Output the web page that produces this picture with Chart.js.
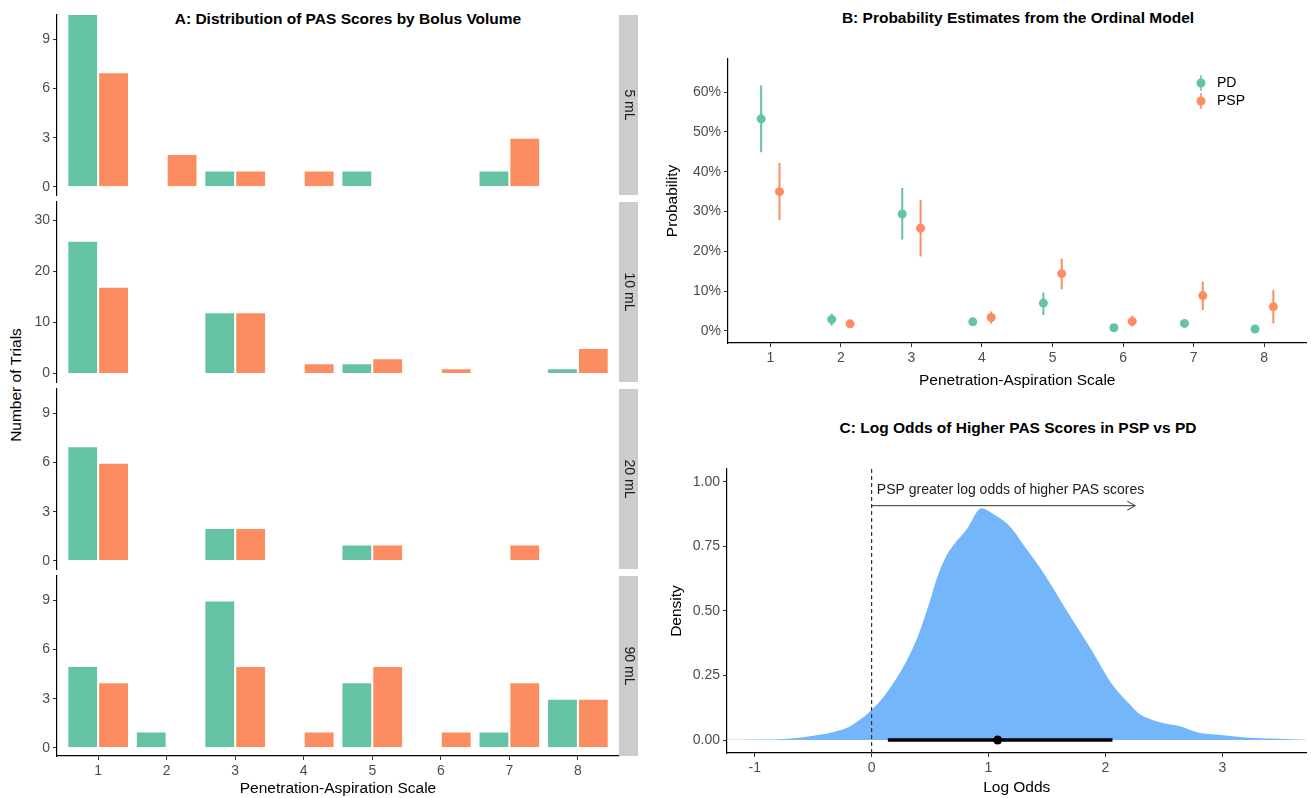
<!DOCTYPE html>
<html>
<head>
<meta charset="utf-8">
<script src="https://cdn.jsdelivr.net/npm/chart.js@4.4.1/dist/chart.umd.min.js"></script>
<style>
  body { margin: 0; background: #fff; width: 1311px; height: 798px; position: relative; overflow: hidden;
         font-family: 'Liberation Sans', Arial, sans-serif; }
  canvas { position: absolute; }
  .ttl { position: absolute; font-weight: bold; font-size: 15.5px; color: #000; white-space: nowrap;
         transform: translate(-50%, -50%); }
  .ytl { position: absolute; font-size: 15.5px; color: #000; white-space: nowrap;
         transform: translate(-50%, -50%) rotate(-90deg); }
</style>
</head>
<body>
<div class="ttl" style="left:348px;top:19px">A: Distribution of PAS Scores by Bolus Volume</div>
<div class="ttl" style="left:1018px;top:18px">B: Probability Estimates from the Ordinal Model</div>
<div class="ttl" style="left:1018px;top:428px">C: Log Odds of Higher PAS Scores in PSP vs PD</div>
<div class="ytl" style="left:16px;top:385px">Number of Trials</div>

<canvas id="facet0" width="640" height="204" style="left:0;top:3px"></canvas>
<canvas id="facet1" width="640" height="204" style="left:0;top:190px"></canvas>
<canvas id="facet2" width="640" height="204" style="left:0;top:377px"></canvas>
<canvas id="facet3" width="640" height="234" style="left:0;top:564px"></canvas>
<canvas id="probChart" width="661" height="360" style="left:650px;top:40px"></canvas>
<canvas id="oddsChart" width="661" height="348" style="left:650px;top:450px"></canvas>

<script>
// ---- data ----
const pasLevels = [1, 2, 3, 4, 5, 6, 7, 8];
const groups = ['PD', 'PSP'];
const volumes = ['5 mL', '10 mL', '20 mL', '90 mL'];

// trial counts per PAS score, one row per bolus volume
const pdCounts = [
  [11, 0, 1, 0, 1, 0, 1, 0],
  [26, 0, 12, 0, 2, 0, 0, 1],
  [7, 0, 2, 0, 1, 0, 0, 0],
  [5, 1, 9, 0, 4, 0, 1, 3]
];
const pspCounts = [
  [7, 2, 1, 1, 0, 0, 3, 0],
  [17, 0, 12, 2, 3, 1, 0, 5],
  [6, 0, 2, 0, 1, 0, 1, 0],
  [4, 0, 5, 1, 5, 1, 4, 3]
];
const countTicks = [[0, 3, 6, 9], [0, 10, 20, 30], [0, 3, 6, 9], [0, 3, 6, 9]];
const countRanges = [[-0.5, 10.5], [-1.67, 33.6], [-0.5, 10.5], [-0.5, 10.5]];

// ordinal model probabilities with intervals
const pdProb  = [0.533, 0.029, 0.294, 0.023, 0.070, 0.008, 0.019, 0.005];
const pdLow   = [0.449, 0.014, 0.230, 0.018, 0.040, 0.005, 0.015, 0.003];
const pdHigh  = [0.617, 0.044, 0.359, 0.028, 0.097, 0.012, 0.023, 0.008];
const pspProb = [0.350, 0.018, 0.258, 0.034, 0.144, 0.024, 0.089, 0.061];
const pspLow  = [0.279, 0.010, 0.187, 0.019, 0.105, 0.011, 0.053, 0.019];
const pspHigh = [0.422, 0.026, 0.329, 0.049, 0.182, 0.038, 0.124, 0.103];
const probTicks = [0, 0.1, 0.2, 0.3, 0.4, 0.5, 0.6];

// posterior density of the log odds
const logOddsX = [-1.237, -0.74, -0.458, -0.316, -0.209, -0.103, 0, 0.146, 0.288, 0.394, 0.5, 0.56,
  0.642, 0.82, 0.94, 1.03, 1.17, 1.31, 1.49, 1.7, 1.88, 2.05, 2.2, 2.28, 2.46, 2.63, 2.8, 2.97, 3.2, 3.48, 3.72];
const densityY = [0.001, 0.004, 0.019, 0.032, 0.047, 0.077, 0.116, 0.194, 0.297, 0.40, 0.54, 0.628,
  0.715, 0.82, 0.897, 0.878, 0.833, 0.749, 0.633, 0.478, 0.349, 0.22, 0.142, 0.105, 0.07, 0.054, 0.028, 0.02, 0.01, 0.005, 0.001];
const logOddsMedian = 1.078;
const logOddsInterval = [0.139, 2.06];
const logOddsTicks = [-1, 0, 1, 2, 3];
const densityTicks = [0, 0.25, 0.5, 0.75, 1];
const noteText = 'PSP greater log odds of higher PAS scores';
const notePos = [0.045, 0.967];
const arrowStart = [0, 0.907];
const arrowEnd = [2.255, 0.907];

// ---- styling ----
const pdColor = '#66C2A5';
const pspColor = '#FC8D62';
const fontFamily = "'Liberation Sans', Arial, sans-serif";
Chart.defaults.font.family = fontFamily;

const tickFont = { size: 14 };
const tickColor = '#4d4d4d';
const axisTitleFont = { size: 15.5 };

function axisStyle(extra) {
  return Object.assign({
    grid: { display: true, drawOnChartArea: false, drawTicks: true, tickLength: 4, color: '#333', lineWidth: 1, offset: false },
    border: { display: true, color: '#000', width: 1.2 },
    ticks: { font: tickFont, color: tickColor, padding: 3 }
  }, extra);
}

function fixedTicks(values) {
  return scale => { scale.ticks = values.map(v => ({ value: v })); };
}

const stripPlugin = {
  id: 'strip',
  afterDraw(chart, args, opts) {
    const { ctx, chartArea: a } = chart;
    ctx.save();
    ctx.fillStyle = '#cccccc';
    ctx.fillRect(a.right, a.top, 19, a.bottom - a.top);
    ctx.translate(a.right + 9.5, (a.top + a.bottom) / 2);
    ctx.rotate(Math.PI / 2);
    ctx.fillStyle = '#1a1a1a';
    ctx.font = '14px ' + fontFamily;
    ctx.textAlign = 'center';
    ctx.textBaseline = 'middle';
    ctx.fillText(opts.label, 0, 0);
    ctx.restore();
  }
};

// ---- panel A: faceted bars ----
function facetChart(i) {
  const last = i === volumes.length - 1;
  const barSet = (label, counts, color) => ({
    label,
    data: pasLevels.map((p, j) => ({ x: p, y: counts[i][j] })),
    backgroundColor: color,
    borderColor: '#ffffff',
    borderWidth: 1,
    categoryPercentage: 0.9,
    barPercentage: 1,
    clip: 0
  });
  new Chart(document.getElementById('facet' + i), {
    type: 'bar',
    data: { datasets: [barSet(groups[0], pdCounts, pdColor), barSet(groups[1], pspCounts, pspColor)] },
    options: {
      animation: false, responsive: false, devicePixelRatio: 1,
      layout: { padding: { top: 12, right: 21, bottom: last ? 0 : 12, left: 0 } },
      scales: {
        x: axisStyle({
          type: 'linear', min: 0.4, max: 8.6, offset: false, display: last,
          afterBuildTicks: fixedTicks(pasLevels),
          afterFit: s => { if (last) s.height = 42; },
          title: { display: true, text: 'Penetration-Aspiration Scale', font: axisTitleFont, color: '#000', padding: { top: 0, bottom: 0 } }
        }),
        y: axisStyle({
          min: countRanges[i][0], max: countRanges[i][1],
          afterBuildTicks: fixedTicks(countTicks[i]),
          afterFit: s => { s.width = 57; }
        })
      },
      plugins: { legend: { display: false }, tooltip: { enabled: false }, strip: { label: volumes[i] } }
    },
    plugins: [stripPlugin]
  });
}
volumes.forEach((v, i) => facetChart(i));

// ---- panel B: probability estimates ----
const dodge = 0.13;
function pointSet(label, probs, color, shift) {
  return {
    label, type: 'line', showLine: false,
    data: pasLevels.map((p, j) => ({ x: p + shift, y: probs[j] })),
    pointRadius: 4.5, pointBackgroundColor: color, pointBorderWidth: 0, pointHoverRadius: 4.5
  };
}
function rangeSet(label, lows, highs, color, shift) {
  const data = [];
  pasLevels.forEach((p, j) => {
    data.push({ x: p + shift, y: lows[j] }, { x: p + shift, y: highs[j] }, { x: p + shift, y: null });
  });
  return { label, type: 'line', data, borderColor: color, borderWidth: 2, pointRadius: 0, spanGaps: false };
}

const legendPlugin = {
  id: 'pointLegend',
  afterDraw(chart) {
    const { ctx } = chart;
    const colors = [pdColor, pspColor];
    ctx.save();
    groups.forEach((g, k) => {
      const cx = 551, cy = 43 + k * 18;
      ctx.strokeStyle = colors[k];
      ctx.lineWidth = 1.5;
      ctx.beginPath(); ctx.moveTo(cx, cy - 8); ctx.lineTo(cx, cy + 8); ctx.stroke();
      ctx.fillStyle = colors[k];
      ctx.beginPath(); ctx.arc(cx, cy, 4.5, 0, Math.PI * 2); ctx.fill();
      ctx.fillStyle = '#000';
      ctx.font = '14px ' + fontFamily;
      ctx.textAlign = 'left'; ctx.textBaseline = 'middle';
      ctx.fillText(g, cx + 16, cy);
    });
    ctx.restore();
  }
};

new Chart(document.getElementById('probChart'), {
  type: 'line',
  data: {
    datasets: [
      pointSet(groups[0], pdProb, pdColor, -dodge),
      pointSet(groups[1], pspProb, pspColor, dodge),
      rangeSet(groups[0] + ' interval', pdLow, pdHigh, pdColor, -dodge),
      rangeSet(groups[1] + ' interval', pspLow, pspHigh, pspColor, dodge)
    ]
  },
  options: {
    animation: false, responsive: false, devicePixelRatio: 1,
    layout: { padding: { top: 19, right: 3, bottom: 0, left: 0 } },
    scales: {
      x: axisStyle({
        type: 'linear', min: 0.4, max: 8.6, offset: false,
        afterBuildTicks: fixedTicks(pasLevels),
        afterFit: s => { s.height = 57; },
        title: { display: true, text: 'Penetration-Aspiration Scale', font: axisTitleFont, color: '#000', padding: { top: 0, bottom: 9.7 } }
      }),
      y: axisStyle({
        min: -0.0302, max: 0.6834,
        afterBuildTicks: fixedTicks(probTicks),
        afterFit: s => { s.width = 78; },
        ticks: { font: tickFont, color: tickColor, padding: 3, callback: v => Math.round(v * 100) + '%' },
        title: { display: true, text: 'Probability', font: axisTitleFont, color: '#000', padding: { top: 13.2, bottom: 0 } }
      })
    },
    plugins: { legend: { display: false }, tooltip: { enabled: false } }
  },
  plugins: [legendPlugin]
});

// ---- panel C: log odds density ----
const oddsRangeY = [-0.0503, 1.049];
const arrowPlugin = {
  id: 'arrowNote',
  afterDatasetsDraw(chart) {
    const { ctx, scales: { x, y } } = chart;
    const ex = x.getPixelForValue(arrowEnd[0]);
    const ey = y.getPixelForValue(arrowEnd[1]);
    ctx.save();
    ctx.strokeStyle = '#333';
    ctx.lineWidth = 1;
    ctx.beginPath();
    ctx.moveTo(ex - 8, ey - 4.5); ctx.lineTo(ex, ey); ctx.lineTo(ex - 8, ey + 4.5);
    ctx.stroke();
    ctx.fillStyle = '#222';
    ctx.font = '14px ' + fontFamily;
    ctx.textAlign = 'left';
    ctx.textBaseline = 'middle';
    ctx.fillText(noteText, x.getPixelForValue(notePos[0]), y.getPixelForValue(notePos[1]));
    ctx.restore();
  }
};

new Chart(document.getElementById('oddsChart'), {
  type: 'line',
  data: {
    datasets: [
      { label: 'median', showLine: false, data: [{ x: logOddsMedian, y: 0 }],
        pointRadius: 4.5, pointBackgroundColor: '#000', pointBorderWidth: 0 },
      { label: 'interval', data: logOddsInterval.map(v => ({ x: v, y: 0 })),
        borderColor: '#000', borderWidth: 3.5, pointRadius: 0 },
      { label: 'zero', data: oddsRangeY.map(v => ({ x: 0, y: v })),
        borderColor: '#333', borderWidth: 1.2, borderDash: [4, 3], pointRadius: 0 },
      { label: 'arrow', data: [{ x: arrowStart[0], y: arrowStart[1] }, { x: arrowEnd[0], y: arrowEnd[1] }],
        borderColor: '#333', borderWidth: 1, pointRadius: 0 },
      { label: 'density', data: logOddsX.map((v, j) => ({ x: v, y: densityY[j] })),
        borderWidth: 0, borderColor: 'rgba(0,0,0,0)', backgroundColor: '#75B6FA', fill: 'origin',
        pointRadius: 0, cubicInterpolationMode: 'monotone' }
    ]
  },
  options: {
    animation: false, responsive: false, devicePixelRatio: 1,
    layout: { padding: { top: 19, right: 3, bottom: 0, left: 0 } },
    scales: {
      x: axisStyle({
        type: 'linear', min: -1.237, max: 3.72, offset: false,
        afterBuildTicks: fixedTicks(logOddsTicks),
        afterFit: s => { s.height = 45; },
        title: { display: true, text: 'Log Odds', font: axisTitleFont, color: '#000', padding: { top: 0, bottom: 0.7 } }
      }),
      y: axisStyle({
        min: oddsRangeY[0], max: oddsRangeY[1],
        afterBuildTicks: fixedTicks(densityTicks),
        afterFit: s => { s.width = 77; },
        ticks: { font: tickFont, color: tickColor, padding: 3, callback: v => v.toFixed(2) },
        title: { display: true, text: 'Density', font: axisTitleFont, color: '#000', padding: { top: 17.3, bottom: 0 } }
      })
    },
    plugins: { legend: { display: false }, tooltip: { enabled: false } }
  },
  plugins: [arrowPlugin]
});
</script>
</body>
</html>
